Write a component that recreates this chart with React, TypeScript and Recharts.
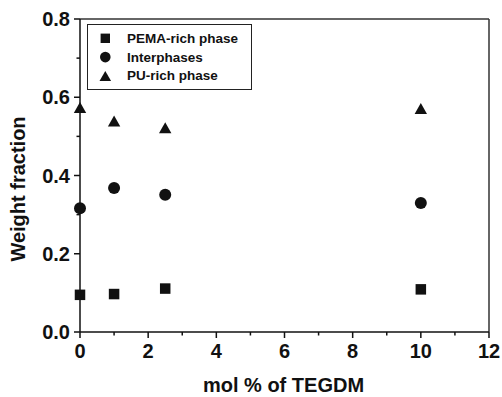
import React from 'react';
import { ScatterChart, Scatter, XAxis, YAxis, ReferenceLine, Legend, Label } from 'recharts';

const molPercent = [0, 1, 2.5, 10];
const pemaRich = [0.095, 0.097, 0.111, 0.109];
const interphases = [0.316, 0.368, 0.351, 0.33];
const puRich = [0.574, 0.539, 0.522, 0.571];

// major ticks are labelled, minor ticks (odd steps) are short and unlabelled
const xTicks = [0, 1, 2, 3, 4, 5, 6, 7, 8, 9, 10, 11, 12];
const yTicks = [0, 0.1, 0.2, 0.3, 0.4, 0.5, 0.6, 0.7, 0.8];

const seriesNames = ['PEMA-rich phase', 'Interphases', 'PU-rich phase'];
const seriesShapes = ['square', 'circle', 'triangle'];

const FONT = '"Liberation Sans", Arial, Helvetica, sans-serif';
const INK = '#111';

const TICK_SIZE = 6;
const TICK_MARGIN_X = 6;
const TICK_MARGIN_Y = 4;
const MINOR_LEN = 3.5;

const toPoints = (ys: number[]) => molPercent.map((x, i) => ({ x, y: ys[i] }));

const SquareShape = (p: any) => (
  <rect x={p.cx - 5.25} y={p.cy - 5.25} width={10.5} height={10.5} fill={INK} />
);
const CircleShape = (p: any) => <circle cx={p.cx} cy={p.cy} r={6} fill={INK} />;
const TriangleShape = (p: any) => (
  <polygon
    points={`${p.cx},${p.cy - 5.5} ${p.cx + 6.2},${p.cy + 5.5} ${p.cx - 6.2},${p.cy + 5.5}`}
    fill={INK}
  />
);

const legendIcon = (shape: string) => {
  if (shape === 'square') return <rect x={-4.7} y={-4.7} width={9.4} height={9.4} fill={INK} />;
  if (shape === 'circle') return <circle cx={0} cy={0} r={5.3} fill={INK} />;
  return <polygon points="0,-5 5.8,5 -5.8,5" fill={INK} />;
};

const LegendBox = () => (
  <div
    style={{
      width: 165,
      height: 66,
      boxSizing: 'border-box',
      border: '1.5px solid #222',
      background: '#fff',
    }}
  >
    <svg width={162} height={63} style={{ display: 'block' }}>
      {seriesNames.map((name, i) => (
        <g key={name} transform={`translate(0, ${13.3 + i * 18.8})`}>
          <g transform="translate(17.3, 0)">{legendIcon(seriesShapes[i])}</g>
          <text
            x={39}
            y={0}
            dominantBaseline="central"
            fontFamily={FONT}
            fontWeight="bold"
            fontSize={13.5}
            fill={INK}
          >
            {name}
          </text>
        </g>
      ))}
    </svg>
  </div>
);

const XTick = (p: any) => {
  const v = p.payload.value as number;
  const major = Math.round(v) % 2 === 0;
  const axisY = p.y - TICK_SIZE - TICK_MARGIN_X;
  return (
    <g>
      <line x1={p.x} x2={p.x} y1={axisY} y2={axisY + (major ? TICK_SIZE : MINOR_LEN)} stroke={INK} strokeWidth={1.5} />
      {major && (
        <text x={p.x} y={p.y} dy="0.71em" textAnchor="middle" fontFamily={FONT} fontWeight="bold" fontSize={20} fill={INK}>
          {String(v)}
        </text>
      )}
    </g>
  );
};

const YTick = (p: any) => {
  const v = p.payload.value as number;
  const major = Math.round(v * 10) % 2 === 0;
  const axisX = p.x + TICK_SIZE + TICK_MARGIN_Y;
  return (
    <g>
      <line x1={axisX} x2={axisX - (major ? TICK_SIZE : MINOR_LEN)} y1={p.y} y2={p.y} stroke={INK} strokeWidth={1.5} />
      {major && (
        <text x={p.x} y={p.y} dy="0.355em" textAnchor="end" fontFamily={FONT} fontWeight="bold" fontSize={20} fill={INK}>
          {v.toFixed(1)}
        </text>
      )}
    </g>
  );
};

export default function App() {
  return (
    <div style={{ position: 'absolute', left: 0, top: 0, background: '#fff' }}>
      <ScatterChart
        width={502}
        height={397}
        margin={{ top: 19, right: 13, bottom: 0, left: 0 }}
      >
        <XAxis
          type="number"
          dataKey="x"
          domain={[0, 12]}
          ticks={xTicks}
          interval={0}
          tickSize={TICK_SIZE}
          tickMargin={TICK_MARGIN_X}
          tick={XTick}
          tickLine={false}
          axisLine={{ stroke: INK, strokeWidth: 1.5 }}
          height={65}
        >
          <Label
            content={() => (
              <text
                x={283.5}
                y={392}
                textAnchor="middle"
                fontFamily={FONT}
                fontWeight="bold"
                fontSize={20}
                fill={INK}
              >
                mol % of TEGDM
              </text>
            )}
          />
        </XAxis>
        <YAxis
          type="number"
          dataKey="y"
          domain={[0, 0.8]}
          ticks={yTicks}
          interval={0}
          tickSize={TICK_SIZE}
          tickMargin={TICK_MARGIN_Y}
          tick={YTick}
          tickLine={false}
          axisLine={{ stroke: INK, strokeWidth: 1.5 }}
          width={80}
        >
          <Label
            content={() => (
              <text
                x={25}
                y={189}
                transform="rotate(-90 25 189)"
                textAnchor="middle"
                fontFamily={FONT}
                fontWeight="bold"
                fontSize={20}
                fill={INK}
              >
                Weight fraction
              </text>
            )}
          />
        </YAxis>
        <ReferenceLine y={0.8} stroke="#333" strokeWidth={1.5} />
        <ReferenceLine x={12} stroke="#333" strokeWidth={1.5} />
        <Legend
          layout="vertical"
          align="center"
          verticalAlign="middle"
          content={() => <LegendBox />}
          wrapperStyle={{ position: 'absolute', left: 87, top: 24, bottom: 'auto', right: 'auto', width: 165, height: 66 }}
        />
        <Scatter
          name={seriesNames[0]}
          data={toPoints(pemaRich)}
          fill={INK}
          shape={SquareShape}
          isAnimationActive={false}
        />
        <Scatter
          name={seriesNames[1]}
          data={toPoints(interphases)}
          fill={INK}
          shape={CircleShape}
          isAnimationActive={false}
        />
        <Scatter
          name={seriesNames[2]}
          data={toPoints(puRich)}
          fill={INK}
          shape={TriangleShape}
          isAnimationActive={false}
        />
      </ScatterChart>
    </div>
  );
}
